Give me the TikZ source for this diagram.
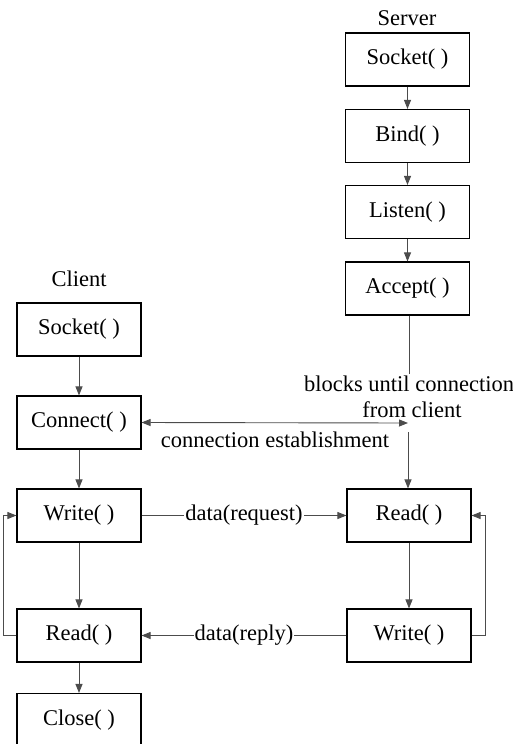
\documentclass[tikz,border=0pt]{standalone}
\usepackage{fontspec}
\setmainfont{Liberation Serif}
\usetikzlibrary{arrows.meta}
\tikzset{
  call/.style={draw=black,line width=1.1pt,minimum width=124pt,minimum height=53pt,inner sep=0pt},
  arr/.style={draw=black!70,line width=0.9pt,-{Triangle[length=9pt,width=7pt]}},
  lbl/.style={fill=white,inner sep=1pt}
}
\begin{document}
\begin{tikzpicture}[x=1pt,y=-1pt,font=\fontsize{22.5}{26}\selectfont]
\useasboundingbox (0,0) rectangle (513,744);
%draw server side
\node (server) at (407,18) {Server};
\node[call] (ssock) at (407.5,59.5) {Socket( )};
\node[call] (sbind) at (407.5,136) {Bind( )};
\node[call] (slist) at (407.5,212) {Listen( )};
\node[call] (sacc) at (407.5,288.5) {Accept( )};
\node[call] (sread) at (409,515.5) {Read( )};
\node[call] (swrite) at (409,635.5) {Write( )};
%draw client side
\node (client) at (79,279) {Client};
\node[call] (csock) at (79,329.5) {Socket( )};
\node[call] (cconn) at (79,422.5) {Connect( )};
\node[call] (cwrite) at (79,515.5) {Write( )};
\node[call] (cread) at (79,635.5) {Read( )};
\node[call] (cclose) at (79,720) {Close( )};
%draw server arrows
\draw[arr] (ssock) -- (sbind);
\draw[arr] (sbind) -- (slist);
\draw[arr] (slist) -- (sacc);
%blocking text
\node[align=center,inner sep=0pt] (block) at (409,397) {blocks until connection\\ \hspace*{6pt}from client};
\draw[draw=black!70,line width=0.9pt] (sacc.south -| block.north) -- ++(0,58);
\coordinate (cend) at (408,423);
\coordinate (cbelow) at (408,432);
\draw[arr,{Triangle[length=9pt,width=7pt]}-{Triangle[length=9pt,width=7pt]}] (cconn.east) -- (cend);
\node (estab) at (275,440) {connection establishment};
\draw[arr] (cbelow) -- (sread.north -| cbelow);
%draw client arrows
\draw[arr] (csock) -- (cconn);
\draw[arr] (cconn) -- (cwrite);
\draw[arr] (cwrite) -- (cread);
\draw[arr] (cread) -- (cclose);
\draw[arr] (sread) -- (swrite);
%data exchange
\draw[arr] (cwrite) -- node[lbl] {data(request)} (sread);
\draw[arr] (swrite) -- node[lbl] {data(reply)} (cread);
%loops
\draw[arr] (cread.west) -- ++(-13,0) |- (cwrite.west);
\draw[arr] (swrite.east) -- ++(14,0) |- (sread.east);
\end{tikzpicture}
\end{document}
